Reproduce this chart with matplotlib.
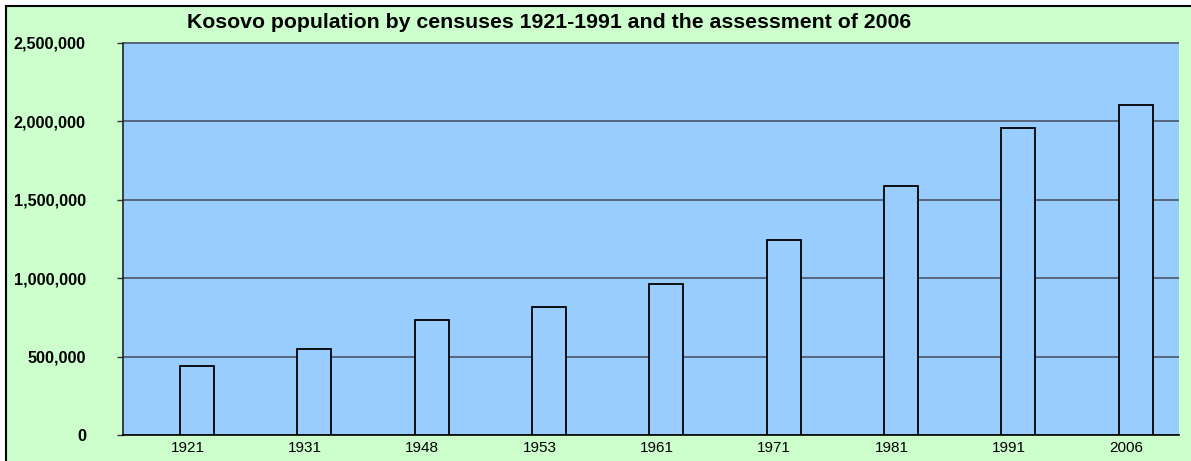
import matplotlib.pyplot as plt
import numpy as np
from matplotlib.patches import Rectangle
from matplotlib.ticker import FuncFormatter

years = ["1921", "1931", "1948", "1953", "1961", "1971", "1981", "1991", "2006"]
population = [439010, 552064, 733034, 815908, 963988, 1243693, 1584441, 1956196, 2100000]

plt.rcParams['font.family'] = ['Liberation Sans', 'DejaVu Sans']

W, H = 1191, 461
fig = plt.figure(figsize=(W / 100, H / 100), dpi=100)
fig.patch.set_facecolor('white')

# green chart area with black frame (runs off the right and bottom edges)
fig.patches.append(Rectangle((6 / W, -0.1), 1.2, (H - 6) / H + 0.1, transform=fig.transFigure,
                             facecolor='#CCFFCC', edgecolor='black', linewidth=1.5, zorder=-5))

ax = fig.add_axes([122.7 / W, (H - 435.3) / H, (1178.7 - 122.7) / W, (435.3 - 42.5) / H])
ax.set_facecolor('#99CCFF')

x = np.arange(len(years))
ax.bar(x, population, width=0.29, color='#99CCFF', edgecolor='black', linewidth=1.3, zorder=3)

ax.set_xlim(-0.633, 8.368)
ax.set_ylim(0, 2500000)
ax.set_yticks(np.arange(0, 2500001, 500000))
ax.yaxis.set_major_formatter(FuncFormatter(lambda v, p: f'{int(v):,}'))
ax.grid(axis='y', color='#4a5566', linewidth=1.2, zorder=1)
ax.set_axisbelow(True)

ax.set_xticks(x - 0.08)
ax.set_xticklabels(years, fontsize=11)
ax.tick_params(axis='x', length=0, pad=4)
ax.tick_params(axis='y', length=4.5, width=1, color='#333333', pad=22, labelsize=11.7)
for lab in ax.get_yticklabels():
    lab.set_fontweight('bold')

for spine in ['top', 'right']:
    ax.spines[spine].set_visible(False)
ax.spines['left'].set_color('#222222')
ax.spines['left'].set_linewidth(1.2)
ax.spines['bottom'].set_color('black')
ax.spines['bottom'].set_linewidth(1.2)

fig.text(549.5 / W, 1 - 22 / H, 'Kosovo population by censuses 1921-1991 and the assessment of 2006',
         ha='center', va='center', fontsize=15.3, fontweight='bold')

fig.savefig('out.png', dpi=100, facecolor=fig.get_facecolor())
